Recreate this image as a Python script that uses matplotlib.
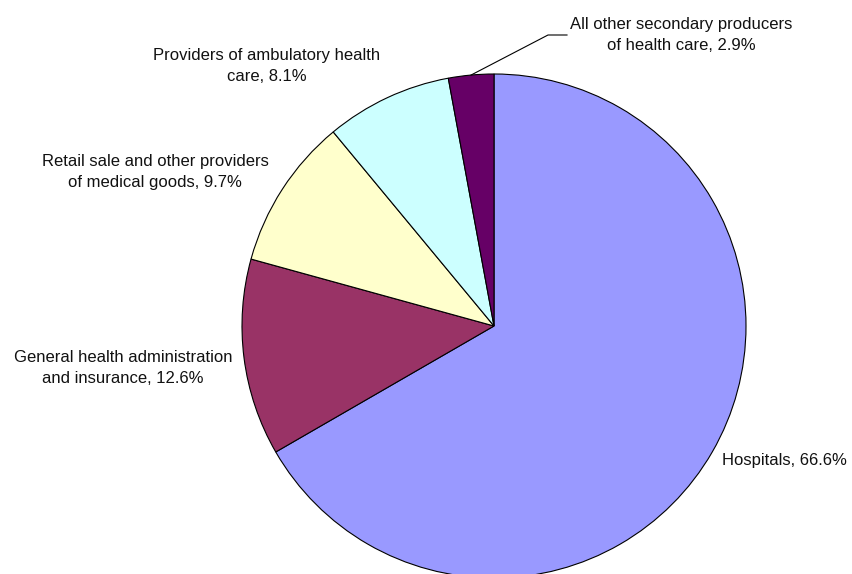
import numpy as np
import matplotlib
matplotlib.use('Agg')
import matplotlib.pyplot as plt

# health care expenditure by provider (share, %)
categories = ['Hospitals',
              'General health administration\nand insurance',
              'Retail sale and other providers\nof medical goods',
              'Providers of ambulatory health\ncare',
              'All other secondary producers\nof health care']
shares = [66.6, 12.6, 9.7, 8.1, 2.9]
colors = ['#9999FF', '#993366', '#FFFFCC', '#CCFFFF', '#660066']

# label centres in pixels (x, y from top) and alignment
label_pos = [(722, 460, 'left'), (123, 368, 'center'), (155, 172, 'center'),
             (267, 66, 'center'), (681, 35, 'center')]

W, H = 853, 574
cx, cy, r = 494, 326, 252

plt.rcParams['font.family'] = ['Liberation Sans', 'DejaVu Sans']

fig = plt.figure(figsize=(W / 100, H / 100), dpi=100, facecolor='white')
ax = fig.add_axes([(cx - r) / W, (H - cy - r) / H, 2 * r / W, 2 * r / H])
wedges, _ = ax.pie(shares, colors=colors, startangle=90, counterclock=False,
                   radius=1, wedgeprops=dict(edgecolor='black', linewidth=0.8))
ax.set_xlim(-1, 1)
ax.set_ylim(-1, 1)
ax.axis('off')
for w in wedges:
    w.set_clip_on(False)

for name, v, (x, y, ha) in zip(categories, shares, label_pos):
    fig.text(x / W, 1 - y / H, '%s, %.1f%%' % (name, v), ha=ha, va='center',
             multialignment='center', fontsize=12, color='#111111', linespacing=1.5)

# leader line for the smallest slice
last = wedges[-1]
mid = np.deg2rad((last.theta1 + last.theta2) / 2)
ex, ey = np.cos(mid), np.sin(mid)
elbow = ((548 - cx) / r, (cy - 35) / r)
end = ((567 - cx) / r, (cy - 35) / r)
ax.plot([ex, elbow[0], end[0]], [ey, elbow[1], end[1]], color='black',
        linewidth=0.8, clip_on=False)

fig.savefig('out.png', dpi=100, facecolor='white')
